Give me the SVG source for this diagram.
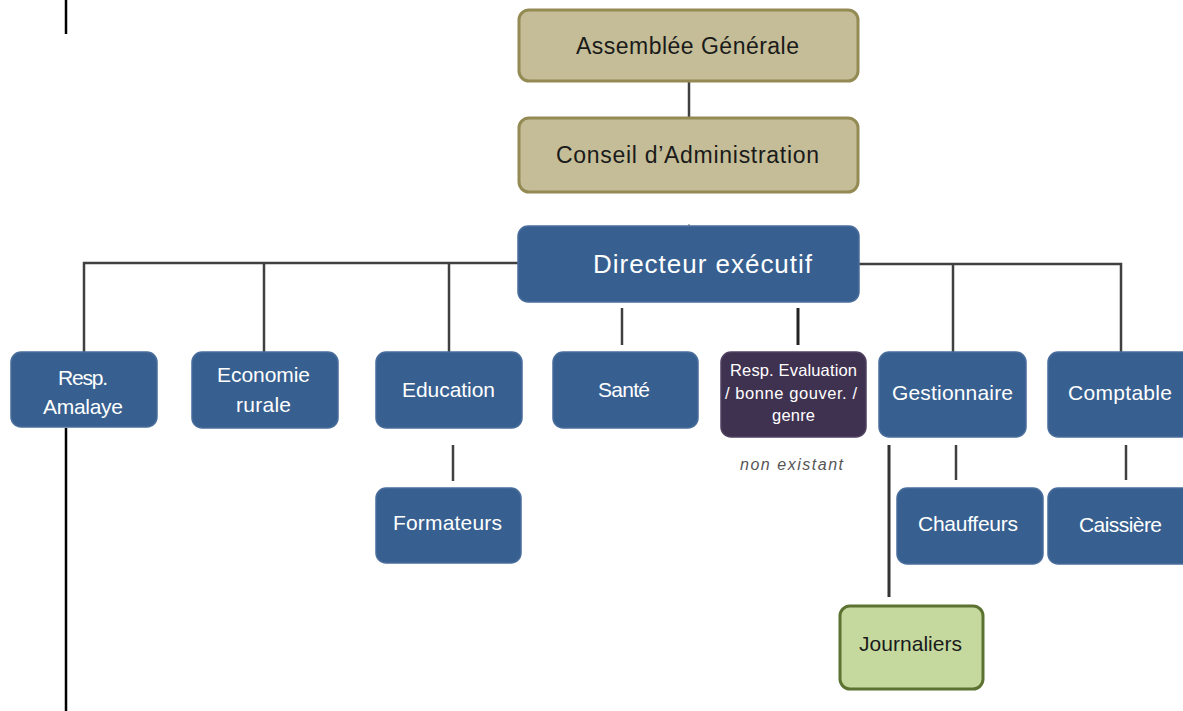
<svg xmlns="http://www.w3.org/2000/svg" width="1183" height="711" viewBox="0 0 1183 711">
<style>
.tan{fill:#c4bd97;stroke:#948a54;stroke-width:3}
.blue{fill:#375f8f;stroke:#4a6e9c;stroke-width:1.5}
.purple{fill:#3f3150;stroke:#4f4060;stroke-width:1.5}
.green{fill:#c5d99f;stroke:#5b7230;stroke-width:3}
.t{font-family:"Liberation Sans",Arial,sans-serif;text-anchor:middle;dominant-baseline:central}
.dk{fill:#1a1a1a;font-size:23px}
.wh{fill:#ffffff;font-size:21px}
.sm{font-size:16.5px}
.ln{stroke:#404040;stroke-width:2.5;fill:none}
</style>
<g id="connectors">
<line class="ln" x1="66" y1="0" x2="66" y2="34" style="stroke:#000"/>
<line class="ln" x1="689" y1="82" x2="689" y2="117"/>
<line class="ln" x1="689" y1="224" x2="689" y2="228" style="stroke:#999;stroke-width:1.5"/>
<polyline class="ln" points="84,353 84,263 518,263"/>
<line class="ln" x1="264" y1="263" x2="264" y2="352"/>
<line class="ln" x1="449" y1="263" x2="449" y2="352"/>
<polyline class="ln" points="859,264 1121,264 1121,352"/>
<line class="ln" x1="953" y1="264" x2="953" y2="352"/>
<line class="ln" x1="622" y1="308" x2="622" y2="345"/>
<line class="ln" x1="798" y1="308" x2="798" y2="345" style="stroke:#222;stroke-width:3"/>
<line class="ln" x1="453" y1="445" x2="453" y2="481"/>
<line class="ln" x1="956" y1="445" x2="956" y2="480"/>
<line class="ln" x1="1126" y1="445" x2="1126" y2="480"/>
<line class="ln" x1="889" y1="445" x2="889" y2="597" style="stroke:#333;stroke-width:3"/>
<line class="ln" x1="66" y1="428" x2="66" y2="711" style="stroke:#000"/>
</g>
<g id="assemblee"><rect class="tan" x="519" y="10" width="339" height="71" rx="10"/><text class="t dk" x="687.5" y="46" textLength="223">Assemblée Générale</text></g>
<g id="conseil"><rect class="tan" x="519" y="118" width="339" height="74" rx="10"/><text class="t dk" x="687.5" y="155" textLength="263">Conseil d’Administration</text></g>
<g id="directeur"><rect class="blue" x="518" y="226" width="341" height="76" rx="10"/><text class="t wh" x="702.5" y="264" style="font-size:26px" textLength="219">Directeur exécutif</text></g>
<g id="amalaye"><rect class="blue" x="11" y="352" width="146" height="75" rx="10"/><text class="t wh" x="83" y="377" textLength="50">Resp.</text><text class="t wh" x="83" y="406" textLength="80">Amalaye</text></g>
<g id="economie"><rect class="blue" x="192" y="352" width="146" height="76" rx="10"/><text class="t wh" x="263.5" y="374" textLength="93">Economie</text><text class="t wh" x="263.5" y="404" textLength="55">rurale</text></g>
<g id="education"><rect class="blue" x="376" y="352" width="146" height="76" rx="10"/><text class="t wh" x="448.5" y="389" textLength="93">Education</text></g>
<g id="sante"><rect class="blue" x="553" y="352" width="145" height="76" rx="10"/><text class="t wh" x="624" y="389" textLength="52">Santé</text></g>
<g id="evaluation"><rect class="purple" x="721" y="352" width="145" height="85" rx="10"/><text class="t wh sm" x="793.5" y="370" textLength="127">Resp. Evaluation</text><text class="t wh sm" x="791" y="393" textLength="132">/ bonne gouver. /</text><text class="t wh sm" x="793.5" y="415" textLength="43">genre</text></g>
<text class="t" x="791.5" y="464" style="fill:#555;font-size:16px;font-style:italic" textLength="103">non existant</text>
<g id="gestionnaire"><rect class="blue" x="879" y="352" width="147" height="85" rx="10"/><text class="t wh" x="952.5" y="392" textLength="121">Gestionnaire</text></g>
<g id="comptable"><rect class="blue" x="1048" y="352" width="150" height="85" rx="10"/><text class="t wh" x="1120" y="392" textLength="104">Comptable</text></g>
<g id="formateurs"><rect class="blue" x="376" y="488" width="145" height="75" rx="10"/><text class="t wh" x="447.5" y="522" textLength="109">Formateurs</text></g>
<g id="chauffeurs"><rect class="blue" x="897" y="488" width="146" height="76" rx="10"/><text class="t wh" x="968" y="523" textLength="100">Chauffeurs</text></g>
<g id="caissiere"><rect class="blue" x="1048" y="488" width="150" height="76" rx="10"/><text class="t wh" x="1120.5" y="524" textLength="83">Caissière</text></g>
<g id="journaliers"><rect class="green" x="840" y="606" width="143" height="83" rx="10"/><text class="t dk" x="910.5" y="643" style="font-size:21px" textLength="103">Journaliers</text></g>
</svg>
